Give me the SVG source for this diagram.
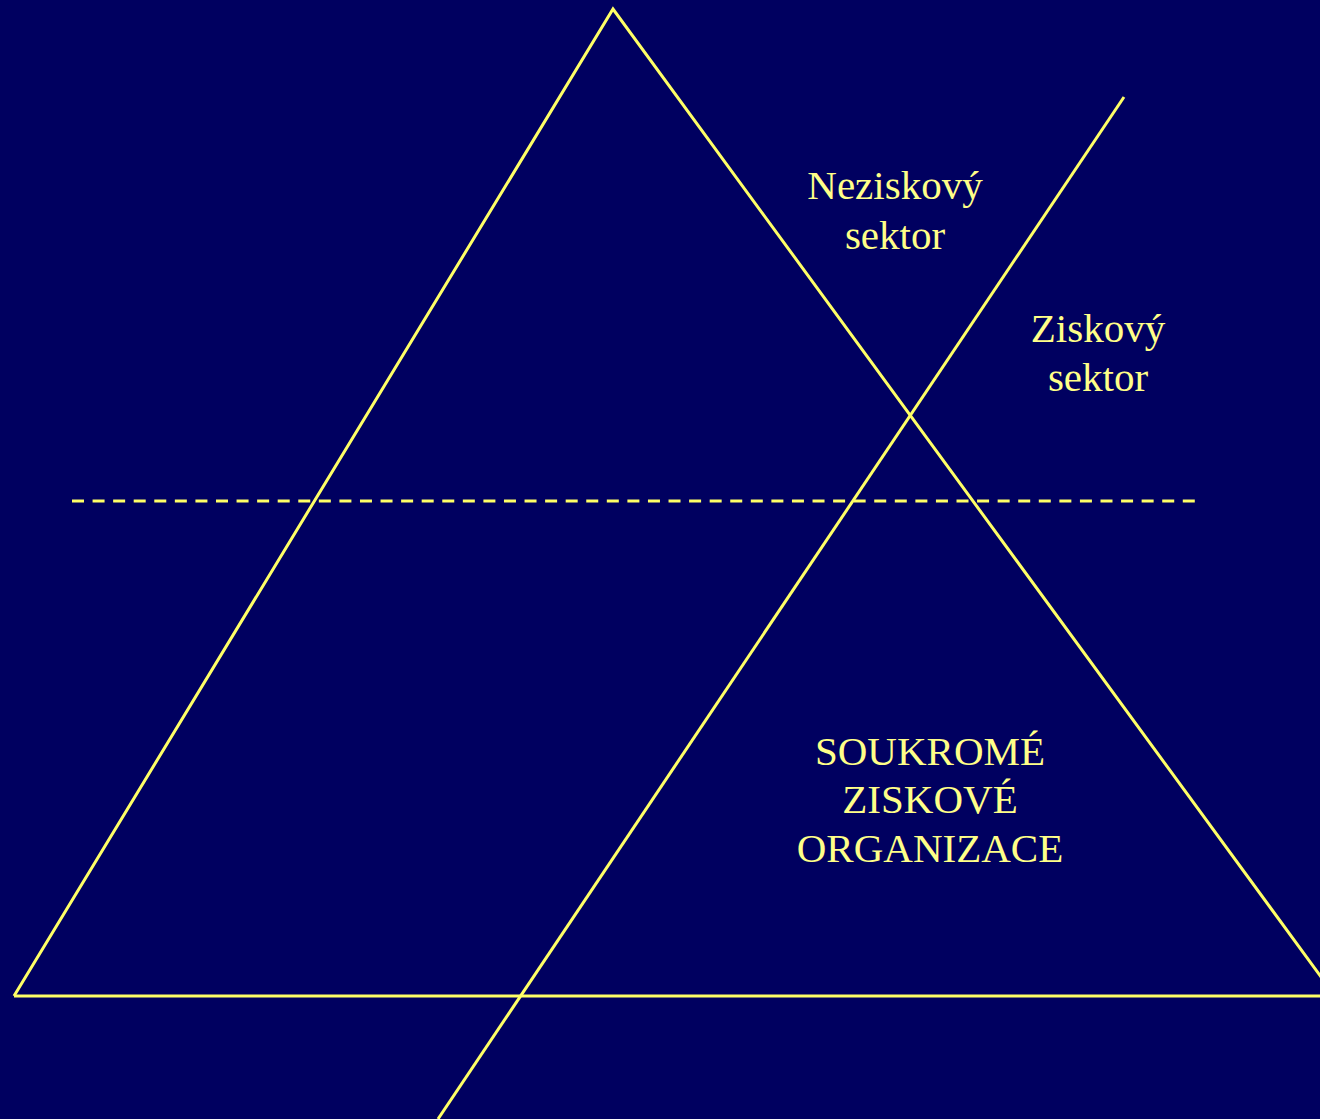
<svg xmlns="http://www.w3.org/2000/svg" width="1320" height="1119" viewBox="0 0 1320 1119">
<style>
.ln{stroke:#FFFF66;stroke-width:3;fill:none}
.t{font-family:"Liberation Serif","Times New Roman",serif;font-size:41px;fill:#FFFF88;text-anchor:middle}
</style>
<rect width="1320" height="1119" fill="#000060"/>
<g id="connectors">
<polyline class="ln" points="14,996 613,9 1335,996"/>
<line class="ln" x1="14" y1="996" x2="1320" y2="996" stroke-width="4"/>
<line class="ln" x1="1124" y1="97" x2="438" y2="1119"/>
<line class="ln" x1="72" y1="501" x2="1196" y2="501" stroke-dasharray="12 8.57"/>
</g>
<g id="neziskovy"><text class="t" x="895" y="199">Neziskový</text><text class="t" x="895" y="249">sektor</text></g>
<g id="ziskovy"><text class="t" x="1098" y="342">Ziskový</text><text class="t" x="1098" y="391">sektor</text></g>
<g id="soukrome"><text class="t" x="930" y="765">SOUKROMÉ</text><text class="t" x="930" y="813">ZISKOVÉ</text><text class="t" x="930" y="862">ORGANIZACE</text></g>
</svg>
